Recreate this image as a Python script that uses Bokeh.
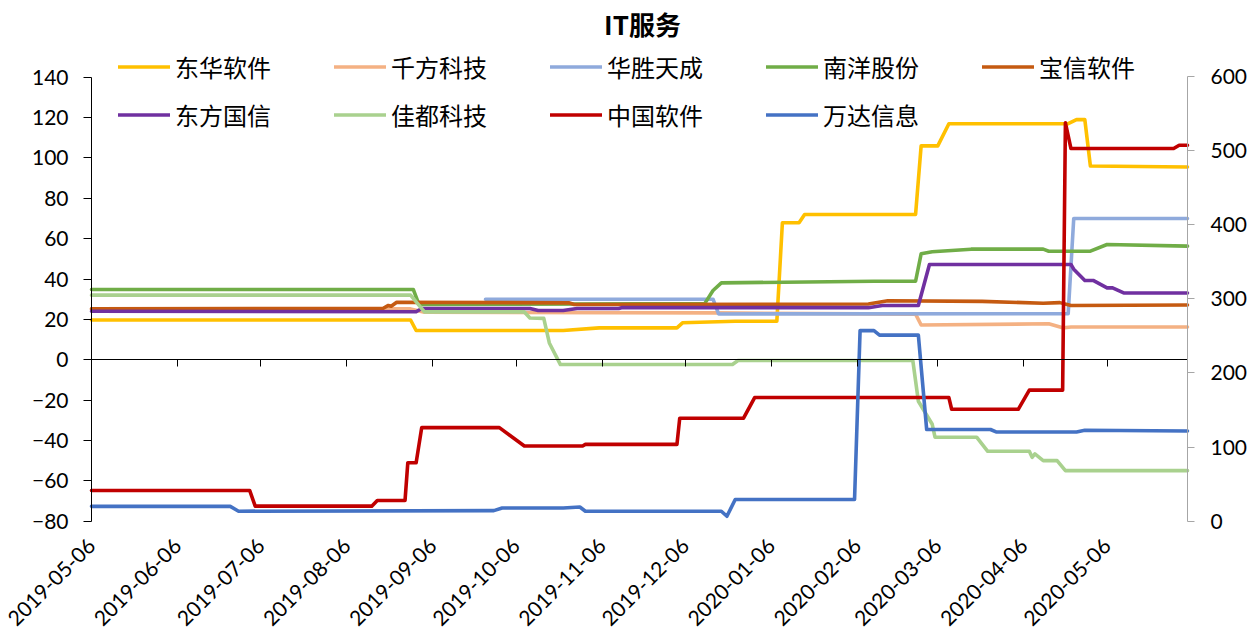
import math
import pandas as pd
from bokeh.plotting import figure
from bokeh.models import (Range1d, LinearAxis, FixedTicker, Legend, LegendItem,
                          Label, DatetimeTickFormatter)
from bokeh.embed import file_html
from bokeh.resources import INLINE

title_text = "IT服务"
x_tick_labels = ["2019-05-06", "2019-06-06", "2019-07-06", "2019-08-06", "2019-09-06",
                 "2019-10-06", "2019-11-06", "2019-12-06", "2020-01-06", "2020-02-06",
                 "2020-03-06", "2020-04-06", "2020-05-06"]
x_first = "2019-05-06"
x_last = "2020-06-04"
left_ticks = [-80, -60, -40, -20, 0, 20, 40, 60, 80, 100, 120, 140]
right_ticks = [0, 100, 200, 300, 400, 500, 600]

# 东华软件
dhrj_dates = ["2019-05-06", "2019-08-29", "2019-08-31", "2019-10-23", "2019-11-05", "2019-12-03",
              "2019-12-05", "2019-12-24", "2020-01-08", "2020-01-10", "2020-01-16", "2020-01-18",
              "2020-02-27", "2020-02-29", "2020-03-06", "2020-03-10", "2020-04-22", "2020-04-25",
              "2020-04-28", "2020-04-30", "2020-06-04"]
dhrj_vals = [19.7, 19.7, 14.5, 14.5, 15.8, 15.8, 18.3, 19.1, 19.1, 67.9, 67.9, 72.0, 72.0,
             106.0, 106.0, 117.0, 117.0, 119.0, 119.0, 96.0, 95.5]

# 千方科技
qfkj_dates = ["2019-05-06", "2019-08-29", "2019-09-03", "2019-12-16", "2020-02-27", "2020-02-29",
              "2020-04-15", "2020-04-20", "2020-04-23", "2020-06-04"]
qfkj_vals = [25.2, 25.2, 23.5, 23.2, 22.6, 17.2, 17.8, 15.8, 16.2, 16.2]

# 华胜天成
hstc_dates = ["2019-09-25", "2019-12-16", "2019-12-18", "2020-04-22", "2020-04-24", "2020-06-04"]
hstc_vals = [30.0, 30.0, 22.7, 22.8, 70.0, 70.0]

# 南洋股份
nygf_dates = ["2019-05-06", "2019-08-30", "2019-09-01", "2019-12-13", "2019-12-16", "2019-12-19",
              "2020-02-12", "2020-02-27", "2020-02-29", "2020-03-04", "2020-03-18", "2020-04-13",
              "2020-04-15", "2020-04-30", "2020-05-06", "2020-06-04"]
nygf_vals = [34.8, 34.8, 27.4, 27.8, 34.3, 38.1, 38.9, 38.9, 52.5, 53.5, 54.8, 54.8, 53.8,
             53.8, 57.1, 56.3]

# 宝信软件
bxrj_dates = ["2019-05-06", "2019-08-19", "2019-08-21", "2019-08-22", "2019-08-24", "2019-10-25",
              "2019-10-27", "2020-02-10", "2020-02-17", "2020-03-22", "2020-04-13", "2020-04-19",
              "2020-04-23", "2020-06-04"]
bxrj_vals = [25.2, 25.4, 26.9, 26.5, 28.5, 28.2, 27.4, 27.6, 29.2, 28.9, 28.0, 28.3, 26.9, 27.1]

# 东方国信
dfgx_dates = ["2019-05-06", "2019-08-31", "2019-09-02", "2019-10-11", "2019-10-14", "2019-10-23",
              "2019-10-28", "2019-11-12", "2019-11-13", "2020-02-10", "2020-02-15", "2020-02-28",
              "2020-03-03", "2020-04-23", "2020-04-24", "2020-04-28", "2020-05-01", "2020-05-06",
              "2020-05-08", "2020-05-12", "2020-06-04"]
dfgx_vals = [24.0, 23.8, 25.4, 25.4, 24.4, 24.4, 25.4, 25.4, 25.8, 25.8, 26.9, 26.9, 47.2,
             47.2, 44.9, 39.3, 39.3, 35.6, 35.6, 33.1, 33.1]

# 佳都科技
jdkj_dates = ["2019-05-06", "2019-08-29", "2019-09-03", "2019-10-09", "2019-10-11", "2019-10-16",
              "2019-10-18", "2019-10-22", "2019-12-23", "2019-12-25", "2020-02-26", "2020-02-28",
              "2020-03-04", "2020-03-05", "2020-03-20", "2020-03-24", "2020-04-08", "2020-04-09",
              "2020-04-10", "2020-04-13", "2020-04-18", "2020-04-21", "2020-06-04"]
jdkj_vals = [32.0, 32.0, 23.7, 23.7, 20.7, 20.5, 8.3, -2.4, -2.4, -0.4, -0.4, -20.6, -32.0,
             -38.4, -38.4, -45.4, -45.4, -48.4, -46.7, -50.0, -50.0, -55.0, -55.0]

# 中国软件 (right axis)
zgrj_dates = ["2019-05-06", "2019-07-02", "2019-07-04", "2019-08-15", "2019-08-17", "2019-08-27",
              "2019-08-28", "2019-08-31", "2019-09-02", "2019-09-30", "2019-10-09", "2019-10-30",
              "2019-10-31", "2019-12-03", "2019-12-04", "2019-12-27", "2019-12-31", "2020-03-10",
              "2020-03-11", "2020-04-04", "2020-04-08", "2020-04-20", "2020-04-21", "2020-04-23",
              "2020-05-30", "2020-06-01", "2020-06-04"]
zgrj_vals = [41.5, 41.5, 20.3, 20.3, 28.0, 28.0, 78.9, 78.9, 126.2, 126.2, 101.5, 101.5, 103.7,
             103.7, 139.0, 139.0, 166.8, 166.8, 151.0, 151.0, 176.8, 176.8, 537.5, 502.8,
             502.8, 507.3, 507.3]

# 万达信息
wdxx_dates = ["2019-05-06", "2019-06-25", "2019-06-28", "2019-09-28", "2019-10-01", "2019-10-23",
              "2019-10-29", "2019-10-31", "2019-12-19", "2019-12-21", "2019-12-24", "2020-02-05",
              "2020-02-07", "2020-02-12", "2020-02-14", "2020-02-28", "2020-03-02", "2020-03-25",
              "2020-03-27", "2020-04-25", "2020-04-28", "2020-06-04"]
wdxx_vals = [-72.7, -72.7, -75.1, -74.8, -73.5, -73.5, -73.0, -75.1, -75.1, -77.6, -69.3, -69.3,
             14.4, 14.4, 12.2, 12.2, -34.6, -34.6, -35.8, -35.8, -35.0, -35.3]

series = [
    ("东华软件", "#FFC000", dhrj_dates, dhrj_vals, "default"),
    ("千方科技", "#F4B183", qfkj_dates, qfkj_vals, "default"),
    ("华胜天成", "#8FAADC", hstc_dates, hstc_vals, "default"),
    ("南洋股份", "#70AD47", nygf_dates, nygf_vals, "default"),
    ("宝信软件", "#C55A11", bxrj_dates, bxrj_vals, "default"),
    ("东方国信", "#7030A0", dfgx_dates, dfgx_vals, "default"),
    ("佳都科技", "#A9D18E", jdkj_dates, jdkj_vals, "default"),
    ("中国软件", "#C00000", zgrj_dates, zgrj_vals, "right"),
    ("万达信息", "#4472C4", wdxx_dates, wdxx_vals, "default"),
]

TICK_FONT = "Lato"
CJK_FONT = "Noto Sans CJK SC"

# layout (pixels); the frame covers the whole canvas, axes are pinned inside it
W, H = 1247, 633
PLOT_L, PLOT_R = 91, 1187
TOP_TICK_PX, BOT_TICK_PX = 76.8, 520.6
RTOP_TICK_PX, RBOT_TICK_PX = 76.0, 520.7

ms_first = pd.Timestamp(x_first).value / 1e6
ms_last = pd.Timestamp(x_last).value / 1e6
px_per_ms = (PLOT_R - PLOT_L) / (ms_last - ms_first)
x_start = ms_first - PLOT_L / px_per_ms
x_end = ms_last + (W - PLOT_R) / px_per_ms

k_left = (BOT_TICK_PX - TOP_TICK_PX) / (left_ticks[-1] - left_ticks[0])
y_start = left_ticks[0] - (H - BOT_TICK_PX) / k_left
y_end = left_ticks[-1] + TOP_TICK_PX / k_left
k_right = (RBOT_TICK_PX - RTOP_TICK_PX) / (right_ticks[-1] - right_ticks[0])
yr_start = right_ticks[0] - (H - RBOT_TICK_PX) / k_right
yr_end = right_ticks[-1] + RTOP_TICK_PX / k_right

p = figure(width=W, height=H, output_backend="svg", toolbar_location=None,
           x_range=Range1d(x_start, x_end), y_range=Range1d(y_start, y_end),
           x_axis_location=None, y_axis_location=None,
           min_border_left=0, min_border_right=0, min_border_top=0, min_border_bottom=0)
p.extra_y_ranges = {"right": Range1d(yr_start, yr_end)}
p.grid.grid_line_color = None
p.outline_line_color = None
p.background_fill_color = "white"
p.border_fill_color = "white"

# left axis
yl = LinearAxis(ticker=FixedTicker(ticks=left_ticks, minor_ticks=[]),
                bounds=(left_ticks[0], left_ticks[-1]), fixed_location=ms_first,
                axis_line_color="#000000", major_tick_line_color="#000000",
                major_tick_out=8, major_tick_in=0, minor_tick_line_color=None,
                major_label_standoff=15, major_label_text_font=TICK_FONT,
                major_label_text_font_size="21px", major_label_text_color="#000000")
p.add_layout(yl, "left")

# right axis
yr = LinearAxis(y_range_name="right", ticker=FixedTicker(ticks=right_ticks, minor_ticks=[]),
                bounds=(right_ticks[0], right_ticks[-1]), fixed_location=ms_last,
                axis_line_color="#A6A6A6", major_tick_line_color="#A6A6A6",
                major_tick_out=7, major_tick_in=0, minor_tick_line_color=None,
                major_label_standoff=16, major_label_text_font=TICK_FONT,
                major_label_text_font_size="21px", major_label_text_color="#000000")
p.add_layout(yr, "right")

tick_ms = [pd.Timestamp(s).value / 1e6 for s in x_tick_labels]
date_fmt = DatetimeTickFormatter(days="%Y-%m-%d", months="%Y-%m-%d", years="%Y-%m-%d",
                                 hours="%Y-%m-%d", hourmin="%Y-%m-%d")

# x axis line with ticks at zero (no labels)
x0 = LinearAxis(ticker=FixedTicker(ticks=tick_ms, minor_ticks=[]),
                major_label_overrides={t: "" for t in tick_ms},
                bounds=(ms_first, ms_last), fixed_location=0,
                axis_line_color="#000000", major_tick_line_color="#000000",
                major_tick_out=7, major_tick_in=0, minor_tick_line_color=None,
                major_label_text_color=None)
p.add_layout(x0, "below")

# date labels under the bottom of the value range
x1 = LinearAxis(ticker=FixedTicker(ticks=tick_ms, minor_ticks=[]), formatter=date_fmt,
                fixed_location=left_ticks[0], axis_line_color=None,
                major_tick_line_color=None, minor_tick_line_color=None,
                major_tick_out=0, major_tick_in=0,
                major_label_orientation=math.pi / 4, major_label_standoff=21,
                major_label_text_font=TICK_FONT, major_label_text_font_size="21px",
                major_label_text_color="#000000")
p.add_layout(x1, "below")

items = []
for name, color, dates, vals, rng in series:
    r = p.line(x=pd.to_datetime(dates), y=vals, line_color=color, line_width=3.6,
               line_join="round", line_cap="round", y_range_name=rng)
    items.append(LegendItem(label=name, renderers=[r]))

legend = Legend(items=items, location=(118, H - 134), orientation="horizontal", ncols=5,
                glyph_width=52, glyph_height=39, label_standoff=5, label_width=150,
                label_height=39, spacing=9, padding=0, margin=0,
                border_line_alpha=0, background_fill_alpha=0,
                label_text_font=CJK_FONT, label_text_font_size="24px",
                label_text_color="#000000")
p.add_layout(legend)

title = Label(x=642, y=H - 23, x_units="screen", y_units="screen", text=title_text,
              text_font=CJK_FONT, text_font_style="bold", text_font_size="26px",
              text_align="center", text_baseline="middle", text_color="#000000")
p.add_layout(title)

open("out.html", "w").write(file_html(p, INLINE))
